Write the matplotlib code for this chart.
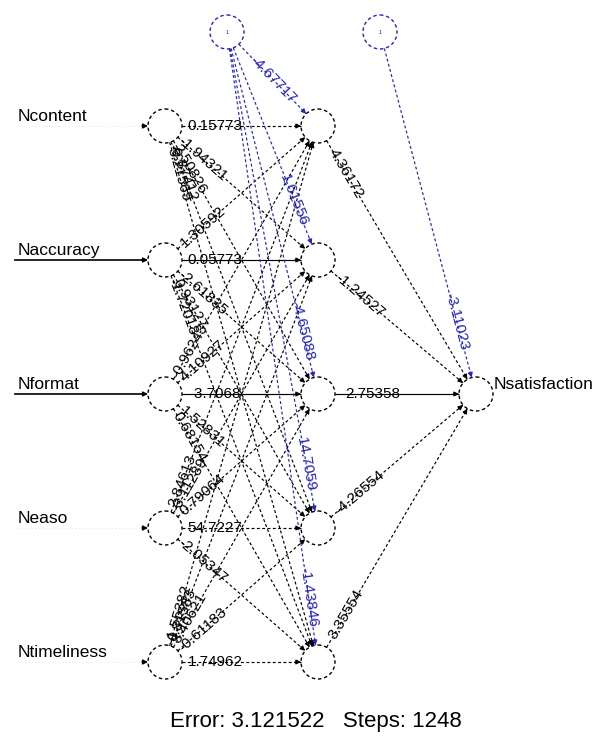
import math
import matplotlib
matplotlib.use("Agg")
import matplotlib.pyplot as plt
from matplotlib.patches import Circle

plt.rcParams['font.family'] = ['Liberation Sans', 'DejaVu Sans']

# ---------------- data ----------------
input_names = ["Ncontent", "Naccuracy", "Nformat", "Neaso", "Ntimeliness"]
output_name = "Nsatisfaction"
# weights input i -> hidden j
w_in_hidden = [
    [0.15773, -1.94321, 2.50826, -0.87412, 3.21569],
    [1.30592, 0.05773, -2.61835, 0.93127, -1.72018],
    [-0.96243, 4.10927, -3.7068, 1.52831, 0.68154],
    [2.84613, -3.11289, 0.79064, 54.7227, -2.05347],
    [-1.55382, 0.81583, 3.40621, -0.61183, 1.74962],
]
hidden_bias = [-4.67717, 1.61556, -4.65088, 14.70592, -1.43846]
w_hidden_out = [4.36172, -1.24527, 2.75358, -4.26554, 3.35554]
output_bias = -3.11023
error_value = "3.121522"
steps_value = "1248"

# ---------------- layout ----------------
W, H = 616, 747
fig = plt.figure(figsize=(W / 100, H / 100), dpi=100)
ax = fig.add_axes([0, 0, 1, 1])
ax.set_xlim(0, W)
ax.set_ylim(H, 0)
ax.axis("off")

R = 17
x_in, x_hid, x_out = 165, 318, 476
y_top, y_step = 126, 134
n = len(input_names)
y_nodes = [y_top + y_step * i for i in range(n)]
y_out = y_nodes[n // 2]
bias1 = (227, 32)
bias2 = (380, 32)
BLUE = "#2626b8"
FS = 11
solid_rows = {1, 2}   # rows whose horizontal lines render solid in the reference


def unit(p, q):
    dx, dy = q[0] - p[0], q[1] - p[1]
    L = math.hypot(dx, dy)
    return dx / L, dy / L, L


def connect(p, q, color, ls, lw=0.85):
    ux, uy, L = unit(p, q)
    s = (p[0] + ux * R, p[1] + uy * R)
    e = (q[0] - ux * R, q[1] - uy * R)
    ax.plot([s[0], e[0]], [s[1], e[1]], color=color, lw=lw, linestyle=ls,
            solid_capstyle="butt", zorder=2)
    ax.annotate("", xy=e, xytext=(e[0] - ux * 6, e[1] - uy * 6),
                arrowprops=dict(arrowstyle="-|>", color=color, lw=0.8,
                                mutation_scale=7, shrinkA=0, shrinkB=0),
                zorder=3)


def weight_label(p, q, val, color, dist, from_end=False):
    ux, uy, L = unit(p, q)
    if from_end:
        pos = (q[0] - ux * dist, q[1] - uy * dist)
    else:
        pos = (p[0] + ux * dist, p[1] + uy * dist)
    ang = math.degrees(math.atan2(-(q[1] - p[1]), q[0] - p[0]))
    ax.text(pos[0], pos[1], f"{val:g}", color=color, fontsize=FS,
            rotation=ang, rotation_mode="anchor",
            ha="center", va="center", zorder=4)


DASH = (0, (2.5, 2))

# input -> hidden
for i in range(n):
    for j in range(n):
        p, q = (x_in, y_nodes[i]), (x_hid, y_nodes[j])
        connect(p, q, "black", "-" if (i == j and i in solid_rows) else DASH)
        weight_label(p, q, w_in_hidden[i][j], "black", 50)

# hidden -> output
for j in range(n):
    p, q = (x_hid, y_nodes[j]), (x_out, y_out)
    connect(p, q, "black", "-" if y_nodes[j] == y_out else DASH)
    weight_label(p, q, w_hidden_out[j], "black", 55)

# bias -> hidden
for j in range(n):
    q = (x_hid, y_nodes[j])
    connect(bias1, q, BLUE, DASH)
    weight_label(bias1, q, hidden_bias[j], BLUE, 65, from_end=True)
connect(bias2, (x_out, y_out), BLUE, DASH)
weight_label(bias2, (x_out, y_out), output_bias, BLUE, 75, from_end=True)

# input arrows and names
for i, name in enumerate(input_names):
    y = y_nodes[i]
    if i in solid_rows:
        ax.plot([15, x_in - R - 4], [y, y], color="black", lw=1.2, zorder=2)
    else:
        ax.plot([15, x_in - R - 4], [y, y], color="#dddddd", lw=0.6,
                linestyle=(0, (1, 3)), zorder=2)
    ax.annotate("", xy=(x_in - R, y), xytext=(x_in - R - 6, y),
                arrowprops=dict(arrowstyle="-|>", color="black", lw=1.0,
                                mutation_scale=7, shrinkA=0, shrinkB=0),
                zorder=3)
    ax.text(18, y - 2, name, fontsize=12.5, ha="left", va="bottom",
            color="black", zorder=4)

# output arrow and name
ax.annotate("", xy=(W + 2, y_out), xytext=(x_out + R, y_out),
            arrowprops=dict(arrowstyle="-|>", color="black", lw=1.2,
                            mutation_scale=7, shrinkA=0, shrinkB=0), zorder=3)
ax.text(x_out + R + 1, y_out - 2, output_name, fontsize=12.5, ha="left",
        va="bottom", color="black", zorder=4)

# neurons
for y in y_nodes:
    for x in (x_in, x_hid):
        ax.add_patch(Circle((x, y), R, fill=True, facecolor="white",
                            edgecolor="black", lw=1, linestyle=DASH, zorder=1))
ax.add_patch(Circle((x_out, y_out), R, facecolor="white", edgecolor="black",
                    lw=1, linestyle=DASH, zorder=1))
for b in (bias1, bias2):
    ax.add_patch(Circle(b, R, facecolor="white", edgecolor=BLUE, lw=1,
                        linestyle=DASH, zorder=1))
    ax.text(b[0], b[1], "1", fontsize=4, color=BLUE, ha="center", va="center",
            zorder=4)

ax.text(W / 2 + 8, 722, f"Error: {error_value}   Steps: {steps_value}",
        fontsize=16, ha="center", va="center", color="black")

fig.savefig("out.png", dpi=100)
